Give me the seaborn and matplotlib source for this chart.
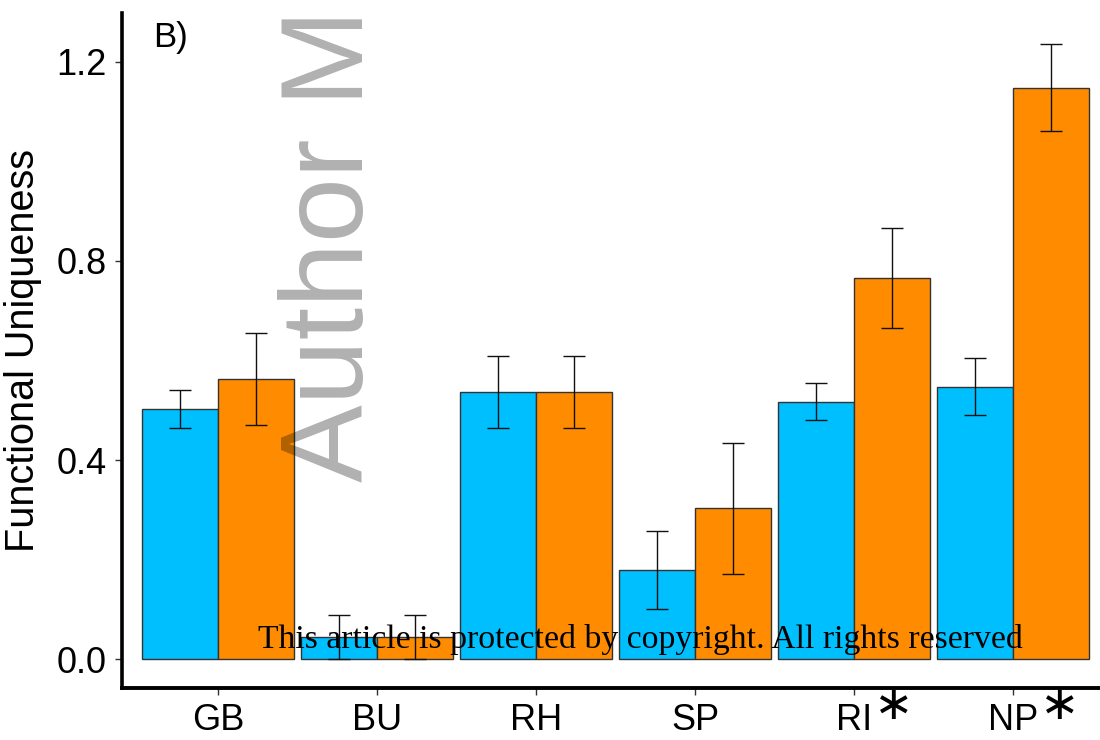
import matplotlib
matplotlib.use("Agg")
import matplotlib.pyplot as plt
import seaborn as sns
import numpy as np
import pandas as pd

# ---- data ----
categories = ["GB", "BU", "RH", "SP", "RI", "NP"]
significant = [False, False, False, False, True, True]
groups = ["Group 1", "Group 2"]
values_g1 = [0.502, 0.044, 0.537, 0.179, 0.517, 0.547]
values_g2 = [0.563, 0.044, 0.537, 0.303, 0.766, 1.148]
err_g1 = [0.038, 0.044, 0.072, 0.078, 0.037, 0.057]
err_g2 = [0.092, 0.044, 0.072, 0.132, 0.100, 0.088]
yticks = [0.0, 0.4, 0.8, 1.2]
ytick_labels = ["0.0", "0.4", "0.8", "1.2"]
colors = ["#00BFFF", "#FF8C00"]

df = pd.DataFrame({
    "cat": categories * 2,
    "grp": [groups[0]] * len(categories) + [groups[1]] * len(categories),
    "val": values_g1 + values_g2,
})

sns.set_theme(style="white")
plt.rcParams["font.family"] = ["Liberation Sans", "DejaVu Sans"]
plt.rcParams["text.color"] = "black"
plt.rcParams["axes.labelcolor"] = "black"
plt.rcParams["mathtext.fontset"] = "dejavusans"

W, H = 1100, 740
fig = plt.figure(figsize=(W / 100, H / 100), dpi=100)
ax = fig.add_axes([122 / W, 1 - 688 / H, (W - 122) / W, (688 - 13) / H])

sns.barplot(data=df, x="cat", y="val", hue="grp", order=categories,
            hue_order=groups, palette=colors, width=0.96, gap=0,
            errorbar=None, edgecolor="#333333", linewidth=1.0,
            saturation=1, legend=False, ax=ax)

for cont, errs in zip(ax.containers, [err_g1, err_g2]):
    xs = [p.get_x() + p.get_width() / 2 for p in cont.patches]
    ys = [p.get_height() for p in cont.patches]
    ax.errorbar(xs, ys, yerr=errs, fmt="none", ecolor="#111111",
                elinewidth=1.0, capsize=8, capthick=1.0, zorder=5)

ax.set_xlim(-0.604, 5.547)
ax.set_ylim(-0.058, 1.298)
ax.set_yticks(yticks)
ax.set_yticklabels(ytick_labels)
ax.set_xlabel("")
ax.set_ylabel("Functional Uniqueness", fontsize=28.5, labelpad=10,
              color="black")
ax.tick_params(axis="both", labelsize=26, colors="#333333", length=5,
               width=1.0, labelcolor="black", pad=6)
ax.tick_params(axis="both", direction="out", left=True, bottom=True)
for s in ["top", "right"]:
    ax.spines[s].set_visible(False)
ax.spines["left"].set_linewidth(2.6)
ax.spines["bottom"].set_linewidth(2.8)
ax.spines["left"].set_color("black")
ax.spines["bottom"].set_color("black")

# panel label
fig.text(153 / W, 1 - 47 / H, "B)", fontsize=25, ha="left", va="baseline",
         color="black")

# asterisks after significant tick labels
fig.canvas.draw()
renderer = fig.canvas.get_renderer()
for lab, sig in zip(ax.get_xticklabels(), significant):
    if not sig:
        continue
    bb = lab.get_window_extent(renderer)
    fig.text((bb.x1 + 0.5) / W, 1 - 707 / H, r"${\ast}$", fontsize=34,
             ha="left", va="center", color="black")

# watermark
fig.text(363 / W, 1 - 482 / H, "Author M", fontsize=84, rotation=90,
         rotation_mode="anchor", ha="left", va="baseline",
         color="black", alpha=0.31, zorder=10)

# footer
foot = fig.text(258 / W, 1 - 648 / H,
                "This article is protected by copyright. All rights reserved",
                fontsize=20, family="Liberation Serif", ha="left",
                va="baseline", color="black", zorder=11)
bb = foot.get_window_extent(renderer)
foot.set_fontsize(20 * 764 / bb.width)

fig.savefig("out.png", dpi=100)
